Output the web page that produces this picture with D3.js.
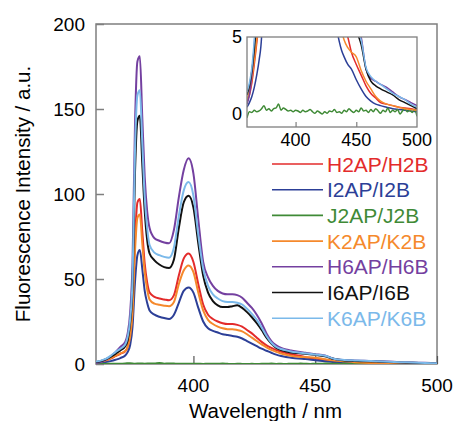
<!DOCTYPE html>
<html>
<head>
<meta charset="utf-8">
<script src="https://cdn.jsdelivr.net/npm/d3@7"></script>
<style>
  body { margin: 0; background: #fff; }
  text { font-family: "Liberation Sans", Arial, sans-serif; }
</style>
</head>
<body>
<div id="chart"></div>
<script>
var width = 457;
var height = 421;

// wavelength grid (nm) shared by the six emitting samples
var wavelengths = [360,362,364,366,368,370,372,373,374,375,376,377,378,379,380,381,382,384,386,388,390,392,394,396,398,400,402,404,406,408,410,412,414,416,418,420,422,424,426,428,430,432,434,436,438,440,443,446,450,454,458,462,466,470,475,480,485,490,495,500];

var h2ap = [0.8,1.2,2,3.2,4.6,6,7.5,10,17,32,72,95,97,78,59,48,42,39.5,38.5,38,37.5,40.5,52,62,65,60,47,35,29,26.5,25,24,23.5,23.5,23,22,20,18,15.5,13,11,9.5,8.2,7.2,6.4,5.7,5.0,4.0,3.2,2.5,1.8,1.3,1.0,0.7,0.6,0.5,0.4,0.35,0.3,0.2];
var i2ap = [0.4,0.7,1.1,1.7,2.5,3.5,5,7,11,22,48,64,67,56,43,36,31.5,29,27.8,27,26.5,29,36,43,45,42,33,25,21,19.5,18.5,17.5,17,16.5,16,15,13.5,12,10.5,9,7.8,6.6,5.5,4.7,4.1,3.7,3.2,2.9,2.2,1.6,1.1,0.8,0.6,0.5,0.4,0.3,0.25,0.2,0.15,0.1];
var k2ap = [0.9,1.4,2.2,3.4,4.8,6.2,7.6,10,16,30,66,86,88,71,54,44,38,35.5,34.8,34.3,34,36.5,47,55,58,54,42,31.5,26,23.5,22,21,20.5,20.5,20,19.2,17.5,15.5,13.5,11.5,9.8,8.3,7.1,6.2,5.4,4.8,4.3,4.0,3.7,2.8,2.1,1.6,1.1,0.8,0.6,0.5,0.4,0.3,0.25,0.2];
var h6ap = [0.6,1.2,2.5,4.5,7,10,13,18,30,60,140,178,181,145,110,90,80,74,72.5,71.5,71,79,98,114,121,112,85,60,51,46,43,41.5,41,41,40.5,39,36,33,29,24,18,13.5,11,9.5,8.6,8,7.2,6.6,5.8,5.0,2.9,2.3,2.1,1.9,1.7,1.4,1.1,0.9,0.7,0.5];
var i6ap = [1.2,1.8,2.8,4.2,6,8,10.5,14,24,45,112,143,146,118,90,73,65,61,58.5,57,56.5,61.5,80,95,99,92,71,52,42,37,34.5,33.5,33.5,34,34.5,33,30.5,27.5,24,20,15.5,12,9.5,8.2,7.4,6.8,6.4,6.0,5.4,4.5,2.9,2.1,1.8,1.6,1.4,1.2,0.9,0.7,0.5,0.3];
var k6ap = [1.4,2,3,4.8,7,9,11.5,16,26,50,125,158,161,130,98,80,70,65.5,64,63,62.5,68.5,87,102,107,99,76,56,46,41,38.5,37,36.5,36.5,36,35,32.5,29.5,26,21.5,16.5,12.5,10,8.8,8,7.4,6.8,6.3,5.6,4.8,3.0,2.4,2.1,1.9,1.6,1.3,1.1,0.9,0.6,0.4];

// J2AP/J2B is flat and noisy around zero (2 nm steps from 360 to 500)
var j2ap = [-0.3,0.1,0.05,0.2,0.1,0.15,0.3,0.5,0.2,0.3,0.15,0.3,0.35,0.6,0.2,0.35,0.25,0.15,0.2,0.1,0.2,0.15,0.05,0.2,0.1,0.15,0.25,0.1,0.0,0.15,0.05,-0.05,0.1,0.0,0.15,0.1,0.25,0.05,0.1,0.0,0.2,0.1,0.3,0.15,0.05,0.2,0.1,0.35,0.15,0.2,0.05,0.25,0.1,0.3,0.15,0.0,0.2,0.1,0.35,0.05,0.2,0.1,0.25,-0.05,0.15,0.3,0.1,0.2,0.05,0.25,-0.2];

var seriesNames = ["H2AP/H2B","I2AP/I2B","J2AP/J2B","K2AP/K2B","H6AP/H6B","I6AP/I6B","K6AP/K6B"];
var seriesValues = [h2ap, i2ap, j2ap, k2ap, h6ap, i6ap, k6ap];
var seriesColors = ["#e32b2b","#2c3f97","#3f8a36","#f5892c","#7440a0","#111111","#7bb9ea"];

var yTicks = [0, 50, 100, 150, 200];
var xTicks = [400, 450, 500];
var insetYTicks = [0, 5];

function toPoints(vals) {
  var n = vals.length;
  return vals.map(function(v, i) {
    var w = (n === wavelengths.length) ? wavelengths[i] : 360 + i * 140 / (n - 1);
    return [w, v];
  });
}

var svg = d3.select("#chart")
  .append("svg")
  .attr("width", width)
  .attr("height", height);

var frameColor = "#7f7f7f";

// main plot area
var mLeft = 96, mRight = 437, mTop = 24, mBottom = 364;
var x = d3.scaleLinear().domain([360, 500]).range([mLeft, mRight]);
var y = d3.scaleLinear().domain([0, 200]).range([mBottom, mTop]);

var defs = svg.append("defs");
defs.append("clipPath").attr("id", "clipMain")
  .append("rect").attr("x", mLeft).attr("y", mTop - 2).attr("width", mRight - mLeft).attr("height", mBottom - mTop + 2);

var line = d3.line()
  .x(function(d) { return x(d[0]); })
  .y(function(d) { return y(d[1]); })
  .curve(d3.curveMonotoneX);

//frame and ticks (ticks point inward)
svg.append("rect")
  .attr("x", mLeft).attr("y", mTop)
  .attr("width", mRight - mLeft).attr("height", mBottom - mTop)
  .attr("fill", "none").attr("stroke", frameColor).attr("stroke-width", 1.5);

var yAxis = d3.axisRight(y).tickValues(yTicks).tickSize(8).tickFormat("");
svg.append("g").attr("transform", "translate(" + mLeft + ",0)").call(yAxis)
  .call(function(g) { g.select(".domain").remove(); g.selectAll("line").attr("stroke", frameColor).attr("stroke-width", 1.5); });

var xAxis = d3.axisTop(x).tickValues(xTicks).tickSize(8).tickFormat("");
svg.append("g").attr("transform", "translate(0," + mBottom + ")").call(xAxis)
  .call(function(g) { g.select(".domain").remove(); g.selectAll("line").attr("stroke", "#555").attr("stroke-width", 1.2); });

// spectra drawn over the frame so the flat J2AP trace shows on the baseline
var gMain = svg.append("g").attr("clip-path", "url(#clipMain)");
seriesValues.forEach(function(vals, i) {
  gMain.append("path")
    .datum(toPoints(vals))
    .attr("d", line)
    .attr("fill", "none")
    .attr("stroke", seriesColors[i])
    .attr("stroke-width", 2)
    .attr("stroke-linejoin", "round");
});

svg.selectAll(".ylab").data(yTicks).enter().append("text")
  .attr("x", mLeft - 11).attr("y", function(d) { return y(d); })
  .attr("dy", "0.36em").attr("text-anchor", "end")
  .attr("font-size", 19).text(function(d) { return d; });

svg.selectAll(".xlab").data(xTicks).enter().append("text")
  .attr("x", function(d) { return x(d); }).attr("y", 392)
  .attr("text-anchor", "middle")
  .attr("font-size", 19).text(function(d) { return d; });

svg.append("text")
  .attr("x", (mLeft + mRight) / 2 - 1).attr("y", 418)
  .attr("text-anchor", "middle").attr("font-size", 20.5)
  .text("Wavelength / nm");

svg.append("text")
  .attr("transform", "translate(30,194) rotate(-90)")
  .attr("text-anchor", "middle").attr("font-size", 20.5)
  .text("Fluorescence Intensity / a.u.");

// inset (zoom on the baseline)
var iLeft = 247, iRight = 417, iTop = 37, iBottom = 127;
var xi = d3.scaleLinear().domain([360, 500]).range([iLeft, iRight]);
var yi = d3.scaleLinear().domain([-0.9, 5]).range([iBottom, iTop]);

svg.append("rect")
  .attr("x", iLeft).attr("y", iTop)
  .attr("width", iRight - iLeft).attr("height", iBottom - iTop)
  .attr("fill", "#fff");

defs.append("clipPath").attr("id", "clipInset")
  .append("rect").attr("x", iLeft).attr("y", iTop).attr("width", iRight - iLeft).attr("height", iBottom - iTop);

var lineInset = d3.line()
  .x(function(d) { return xi(d[0]); })
  .y(function(d) { return yi(d[1]); })
  .curve(d3.curveMonotoneX);

var gInset = svg.append("g").attr("clip-path", "url(#clipInset)");
seriesValues.forEach(function(vals, i) {
  gInset.append("path")
    .datum(toPoints(vals))
    .attr("d", lineInset)
    .attr("fill", "none")
    .attr("stroke", seriesColors[i])
    .attr("stroke-width", 1.5);
});

svg.append("rect")
  .attr("x", iLeft).attr("y", iTop)
  .attr("width", iRight - iLeft).attr("height", iBottom - iTop)
  .attr("fill", "none").attr("stroke", frameColor).attr("stroke-width", 1.3);

var xAxisInset = d3.axisTop(xi).tickValues([400, 450]).tickSize(5).tickFormat("");
svg.append("g").attr("transform", "translate(0," + iBottom + ")").call(xAxisInset)
  .call(function(g) { g.select(".domain").remove(); g.selectAll("line").attr("stroke", frameColor).attr("stroke-width", 1.2); });

svg.selectAll(".xilab").data(xTicks).enter().append("text")
  .attr("x", function(d) { return xi(d); }).attr("y", 146)
  .attr("text-anchor", "middle").attr("font-size", 18)
  .text(function(d) { return d; });

svg.selectAll(".yilab").data(insetYTicks).enter().append("text")
  .attr("x", iLeft - 5).attr("y", function(d) { return yi(d); })
  .attr("dy", "0.36em").attr("text-anchor", "end").attr("font-size", 18)
  .text(function(d) { return d; });

// legend
var legend = svg.append("g");
seriesNames.forEach(function(name, i) {
  var ly = 164 + i * 25.7;
  legend.append("line")
    .attr("x1", 272).attr("x2", 323).attr("y1", ly).attr("y2", ly)
    .attr("stroke", seriesColors[i]).attr("stroke-width", 1.6);
  legend.append("text")
    .attr("x", 327).attr("y", ly).attr("dy", "0.36em")
    .attr("font-size", 21).attr("fill", seriesColors[i])
    .text(name);
});
</script>
</body>
</html>
